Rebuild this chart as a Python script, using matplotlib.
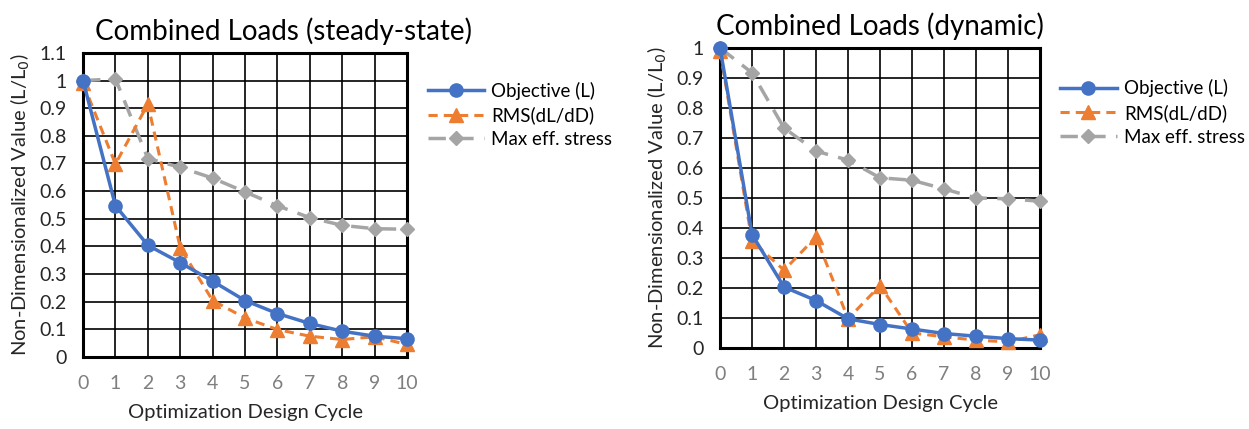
import numpy as np
import matplotlib
matplotlib.use("Agg")
from matplotlib import pyplot as plt

plt.rcParams['font.family'] = ['Lato', 'DejaVu Sans']

cycles = list(range(0, 11))
tick_labels = [str(c) for c in cycles]

# steady-state case
steady_objective = [1.0, 0.547, 0.404, 0.341, 0.274, 0.204, 0.157, 0.121, 0.093, 0.075, 0.066]
steady_rms = [0.99, 0.698, 0.915, 0.395, 0.204, 0.141, 0.099, 0.075, 0.063, 0.073, 0.045]
steady_stress = [1.0, 1.006, 0.718, 0.686, 0.647, 0.597, 0.547, 0.504, 0.476, 0.464, 0.462]

# dynamic case
dyn_objective = [1.0, 0.378, 0.203, 0.158, 0.097, 0.078, 0.063, 0.048, 0.039, 0.031, 0.026]
dyn_rms = [0.99, 0.356, 0.259, 0.37, 0.097, 0.208, 0.05, 0.037, 0.026, 0.02, 0.044]
dyn_stress = [1.0, 0.917, 0.733, 0.656, 0.626, 0.567, 0.559, 0.53, 0.5, 0.497, 0.489]

BLUE = '#4472C4'
ORANGE = '#ED7D31'
GRAY = '#A5A5A5'


def draw_panel(ax, objective, rms, stress, title, title_x, ymax, legend_anchor):
    ax.plot(cycles, stress, color=GRAY, lw=2.5, dashes=(5, 3), marker='D',
            ms=7.5, label='Max eff. stress', zorder=3, clip_on=False)
    ax.plot(cycles, rms, color=ORANGE, lw=2.2, dashes=(3, 2), marker='^',
            ms=9.5, label='RMS(dL/dD)', zorder=4, clip_on=False)
    ax.plot(cycles, objective, color=BLUE, lw=2.5, marker='o',
            ms=9.5, label='Objective (L)', zorder=5, clip_on=False)

    ax.set_xlim(0, 10)
    ax.set_ylim(0, ymax)
    ax.set_xticks(cycles)
    ax.set_xticklabels(tick_labels)
    yt = np.round(np.arange(0, ymax + 0.001, 0.1), 1)
    ax.set_yticks(yt)
    ax.set_yticklabels([f'{v:g}' for v in yt])
    ax.grid(True, color='black', lw=1.2)
    ax.set_axisbelow(True)
    for s in ax.spines.values():
        s.set_linewidth(2.2)
        s.set_color('black')
        s.set_zorder(2)
    ax.tick_params(axis='both', length=0)
    ax.tick_params(axis='x', colors='#7F7F7F', pad=13, labelsize=14)
    ax.tick_params(axis='y', colors='#262626', pad=12, labelsize=14)
    ax.set_xlabel('Optimization Design Cycle', fontsize=14.5, color='#262626', labelpad=9)
    ax.set_ylabel('Non-Dimensionalized Value (L/L$_0$)', fontsize=14.5, color='#262626', labelpad=5)
    ax.set_title(title, fontsize=20, pad=9, color='black', x=title_x)

    handles, labels = ax.get_legend_handles_labels()
    ax.legend(handles[::-1], labels[::-1], loc='upper left', bbox_to_anchor=legend_anchor,
              frameon=False, fontsize=13.5, handlelength=3.0, handletextpad=0.4,
              labelspacing=0.35, borderaxespad=0)


fig = plt.figure(figsize=(12.49, 4.29), dpi=100)
ax1 = fig.add_axes([0.0665, 0.168, 0.2594, 0.7086])
ax2 = fig.add_axes([0.5765, 0.189, 0.2562, 0.6993])

draw_panel(ax1, steady_objective, steady_rms, steady_stress,
           'Combined Loads (steady-state)', 0.62, 1.1, (1.04, 0.93))
draw_panel(ax2, dyn_objective, dyn_rms, dyn_stress,
           'Combined Loads (dynamic)', 0.5, 1.0, (1.04, 0.92))

fig.savefig('out.png', dpi=100)
